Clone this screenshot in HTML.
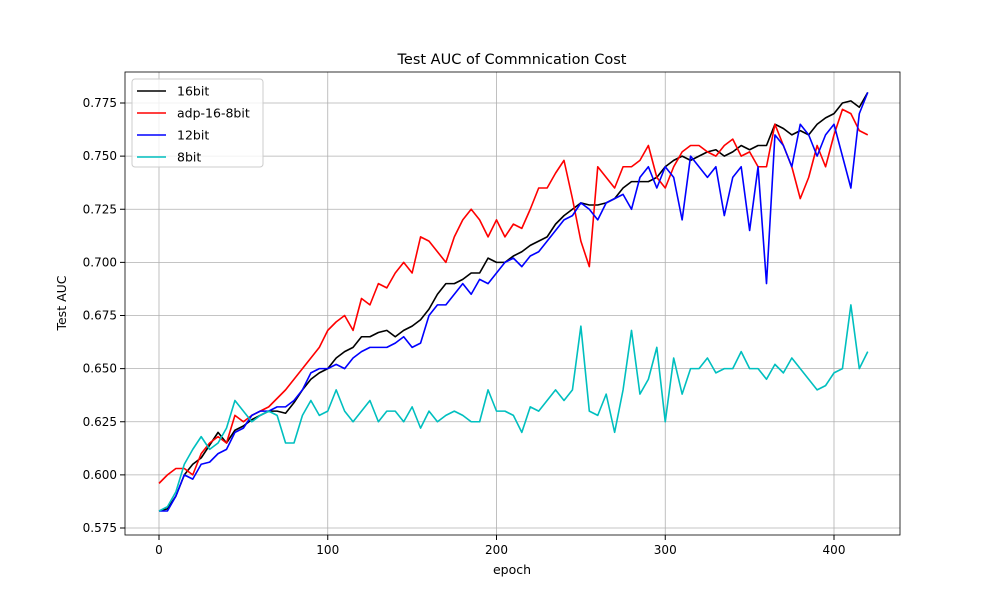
<!DOCTYPE html>
<html><head><meta charset="utf-8"><style>
body{margin:0;background:#fff;font-family:"Liberation Sans","DejaVu Sans",sans-serif}
svg text{font-family:"DejaVu Sans","Liberation Sans",sans-serif}
</style></head><body>
<svg id="chart" width="1000" height="600"></svg>
<script>
const epochs=[];for(let e=0;e<=420;e+=5)epochs.push(e);
const s16=[0.583,0.584,0.590,0.600,0.605,0.608,0.614,0.620,0.615,0.621,0.623,0.626,0.628,0.630,0.630,0.629,0.634,0.640,0.645,0.648,0.650,0.655,0.658,0.660,0.665,0.665,0.667,0.668,0.665,0.668,0.670,0.673,0.678,0.685,0.690,0.690,0.692,0.695,0.695,0.702,0.700,0.700,0.703,0.705,0.708,0.710,0.712,0.718,0.722,0.725,0.728,0.727,0.727,0.728,0.730,0.735,0.738,0.738,0.738,0.740,0.745,0.748,0.750,0.748,0.750,0.752,0.753,0.750,0.752,0.755,0.753,0.755,0.755,0.765,0.763,0.760,0.762,0.760,0.765,0.768,0.770,0.775,0.776,0.773,0.780];
const sAdp=[0.596,0.600,0.603,0.603,0.600,0.610,0.615,0.618,0.615,0.628,0.625,0.628,0.630,0.632,0.636,0.640,0.645,0.650,0.655,0.660,0.668,0.672,0.675,0.668,0.683,0.680,0.690,0.688,0.695,0.700,0.695,0.712,0.710,0.705,0.700,0.712,0.720,0.725,0.720,0.712,0.720,0.712,0.718,0.716,0.725,0.735,0.735,0.742,0.748,0.730,0.710,0.698,0.745,0.740,0.735,0.745,0.745,0.748,0.755,0.740,0.735,0.745,0.752,0.755,0.755,0.752,0.750,0.755,0.758,0.750,0.752,0.745,0.745,0.765,0.755,0.745,0.730,0.740,0.755,0.745,0.760,0.772,0.770,0.762,0.760];
const s12=[0.583,0.583,0.590,0.600,0.598,0.605,0.606,0.610,0.612,0.620,0.622,0.628,0.630,0.630,0.632,0.632,0.635,0.640,0.648,0.650,0.650,0.652,0.650,0.655,0.658,0.660,0.660,0.660,0.662,0.665,0.660,0.662,0.675,0.680,0.680,0.685,0.690,0.685,0.692,0.690,0.695,0.700,0.702,0.698,0.703,0.705,0.710,0.715,0.720,0.722,0.728,0.725,0.720,0.728,0.730,0.732,0.725,0.740,0.745,0.735,0.745,0.740,0.720,0.750,0.745,0.740,0.745,0.722,0.740,0.745,0.715,0.745,0.690,0.760,0.755,0.745,0.765,0.760,0.750,0.760,0.765,0.750,0.735,0.770,0.780];
const s8=[0.583,0.585,0.592,0.605,0.612,0.618,0.612,0.615,0.622,0.635,0.630,0.625,0.628,0.630,0.628,0.615,0.615,0.628,0.635,0.628,0.630,0.640,0.630,0.625,0.630,0.635,0.625,0.630,0.630,0.625,0.632,0.622,0.630,0.625,0.628,0.630,0.628,0.625,0.625,0.640,0.630,0.630,0.628,0.620,0.632,0.630,0.635,0.640,0.635,0.640,0.670,0.630,0.628,0.638,0.620,0.640,0.668,0.638,0.645,0.660,0.625,0.655,0.638,0.650,0.650,0.655,0.648,0.650,0.650,0.658,0.650,0.650,0.645,0.652,0.648,0.655,0.650,0.645,0.640,0.642,0.648,0.650,0.680,0.650,0.658];
const xTicks=[0,100,200,300,400];
const yTicks=[0.575,0.600,0.625,0.650,0.675,0.700,0.725,0.750,0.775];
const series=[["16bit",s16,"#000"],["adp-16-8bit",sAdp,"red"],["12bit",s12,"blue"],["8bit",s8,"#00bfbf"]];
const L=125,R=900,T=72,B=535;
const X=v=>159+v*(834-159)/400;
const Y=v=>103+(0.775-v)*(528-103)/0.2;
const svg=document.getElementById('chart');const NS='http://www.w3.org/2000/svg';
function mk(t,a,p){const e=document.createElementNS(NS,t);for(const k in a)e.setAttribute(k,a[k]);(p||svg).appendChild(e);return e;}
const g=mk('g',{});
xTicks.forEach(t=>{mk('line',{x1:X(t),x2:X(t),y1:T,y2:B,stroke:'#b0b0b0','stroke-width':0.8},g);
mk('line',{x1:X(t),x2:X(t),y1:B,y2:B+5,stroke:'#000'});
const tx=mk('text',{x:X(t),y:B+19,'text-anchor':'middle','font-size':12});tx.textContent=t;
});
yTicks.forEach(t=>{mk('line',{x1:L,x2:R,y1:Y(t),y2:Y(t),stroke:'#b0b0b0','stroke-width':0.8},g);
mk('line',{x1:L-5,x2:L,y1:Y(t),y2:Y(t),stroke:'#000'});
const tx=mk('text',{x:L-8,y:Y(t)+4,'text-anchor':'end','font-size':12});tx.textContent=t.toFixed(3);
});
series.forEach(([n,d,c])=>{const p=mk('polyline',{points:d.map((v,i)=>X(epochs[i])+','+Y(v)).join(' '),fill:'none',stroke:c,'stroke-width':1.6,'stroke-linejoin':'round'});
});
const fr=mk('rect',{x:L,y:T,width:R-L,height:B-T,fill:'none',stroke:'#000','stroke-width':0.8});

let t=mk('text',{x:512,y:64,'text-anchor':'middle','font-size':14.5});t.textContent='Test AUC of Commnication Cost';

t=mk('text',{x:512,y:574,'text-anchor':'middle','font-size':12.5});t.textContent='epoch';

t=mk('text',{x:0,y:0,'text-anchor':'middle','font-size':12.5,transform:'translate(66,303) rotate(-90)'});t.textContent='Test AUC';

const lg=mk('g',{});
mk('rect',{x:132,y:79,width:131,height:88,rx:3,fill:'#fff',stroke:'#ccc','fill-opacity':0.8},lg);
series.forEach(([n,d,c],i)=>{const y=91+i*22;
mk('line',{x1:137,x2:166,y1:y,y2:y,stroke:c,'stroke-width':1.6},lg);
const e=mk('text',{x:177,y:y+4.5,'font-size':12.5},lg);e.textContent=n;
});
</script>
</body></html>
